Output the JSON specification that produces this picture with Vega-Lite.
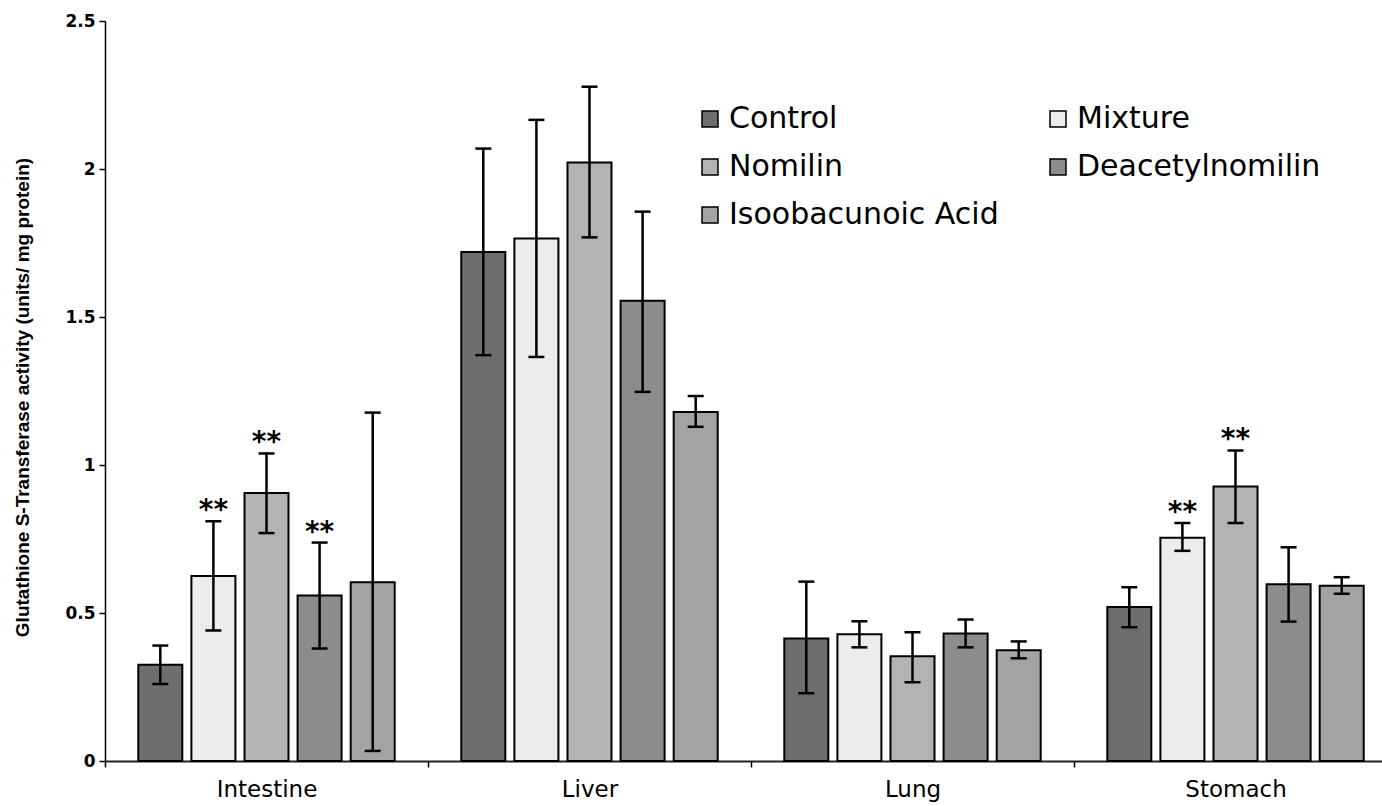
{
  "$schema": "https://vega.github.io/schema/vega-lite/v6.json",
  "width": 1277,
  "height": 740,
  "autosize": {"type": "none"},
  "padding": {"left": 105, "top": 21, "right": 0, "bottom": 45},
  "background": "white",
  "config": {"view": {"stroke": null}, "font": "DejaVu Sans"},
  "data": {
    "values": [
      {"tissue": "Intestine", "treatment": "Control", "mean": 0.325, "lo": 0.26, "hi": 0.39, "sig": ""},
      {"tissue": "Intestine", "treatment": "Mixture", "mean": 0.625, "lo": 0.441, "hi": 0.81, "sig": "**"},
      {"tissue": "Intestine", "treatment": "Nomilin", "mean": 0.905, "lo": 0.77, "hi": 1.039, "sig": "**"},
      {"tissue": "Intestine", "treatment": "Deacetylnomilin", "mean": 0.559, "lo": 0.38, "hi": 0.738, "sig": "**"},
      {"tissue": "Intestine", "treatment": "Isoobacunoic Acid", "mean": 0.604, "lo": 0.034, "hi": 1.177, "sig": ""},
      {"tissue": "Liver", "treatment": "Control", "mean": 1.72, "lo": 1.371, "hi": 2.069, "sig": ""},
      {"tissue": "Liver", "treatment": "Mixture", "mean": 1.765, "lo": 1.365, "hi": 2.166, "sig": ""},
      {"tissue": "Liver", "treatment": "Nomilin", "mean": 2.022, "lo": 1.769, "hi": 2.278, "sig": ""},
      {"tissue": "Liver", "treatment": "Deacetylnomilin", "mean": 1.555, "lo": 1.247, "hi": 1.856, "sig": ""},
      {"tissue": "Liver", "treatment": "Isoobacunoic Acid", "mean": 1.179, "lo": 1.129, "hi": 1.233, "sig": ""},
      {"tissue": "Lung", "treatment": "Control", "mean": 0.414, "lo": 0.229, "hi": 0.606, "sig": ""},
      {"tissue": "Lung", "treatment": "Mixture", "mean": 0.428, "lo": 0.384, "hi": 0.472, "sig": ""},
      {"tissue": "Lung", "treatment": "Nomilin", "mean": 0.354, "lo": 0.266, "hi": 0.435, "sig": ""},
      {"tissue": "Lung", "treatment": "Deacetylnomilin", "mean": 0.431, "lo": 0.384, "hi": 0.478, "sig": ""},
      {"tissue": "Lung", "treatment": "Isoobacunoic Acid", "mean": 0.374, "lo": 0.347, "hi": 0.404, "sig": ""},
      {"tissue": "Stomach", "treatment": "Control", "mean": 0.52, "lo": 0.452, "hi": 0.587, "sig": ""},
      {"tissue": "Stomach", "treatment": "Mixture", "mean": 0.754, "lo": 0.71, "hi": 0.804, "sig": "**"},
      {"tissue": "Stomach", "treatment": "Nomilin", "mean": 0.927, "lo": 0.804, "hi": 1.049, "sig": "**"},
      {"tissue": "Stomach", "treatment": "Deacetylnomilin", "mean": 0.597, "lo": 0.471, "hi": 0.722, "sig": ""},
      {"tissue": "Stomach", "treatment": "Isoobacunoic Acid", "mean": 0.592, "lo": 0.565, "hi": 0.621, "sig": ""}
    ]
  },
  "encoding": {
    "x": {
      "field": "tissue",
      "type": "nominal",
      "sort": ["Intestine", "Liver", "Lung", "Stomach"],
      "scale": {"range": [0, 1292], "paddingInner": 0, "paddingOuter": 0},
      "axis": {
        "title": null,
        "tickBand": "extent",
        "labelAngle": 0,
        "labelFont": "DejaVu Sans",
        "labelFontSize": 23,
        "labelColor": "black",
        "labelPadding": 11,
        "domainColor": "#222222",
        "domainWidth": 2,
        "tickColor": "black",
        "tickWidth": 1.5,
        "tickSize": 6
      }
    },
    "xOffset": {
      "field": "treatment",
      "type": "nominal",
      "sort": ["Control", "Mixture", "Nomilin", "Deacetylnomilin", "Isoobacunoic Acid"],
      "scale": {"paddingInner": 0.171, "paddingOuter": 0.627}
    }
  },
  "layer": [
    {
      "mark": {"type": "bar", "stroke": "black", "strokeWidth": 2},
      "encoding": {
        "y": {
          "field": "mean",
          "type": "quantitative",
          "scale": {"domain": [0, 2.5], "nice": false, "zero": true},
          "axis": {
            "values": [0, 0.5, 1, 1.5, 2, 2.5],
            "format": "~g",
            "grid": false,
            "tickSize": 6,
            "tickColor": "black",
            "tickWidth": 1.5,
            "domainColor": "black",
            "domainWidth": 1.5,
            "labelFont": "DejaVu Sans",
            "labelFontSize": 17,
            "labelFontWeight": "bold",
            "labelColor": "black",
            "labelPadding": 4,
            "title": "Glutathione S-Transferase activity (units/ mg protein)",
            "titleFont": "Liberation Sans",
            "titleFontSize": 19,
            "titleFontWeight": "bold",
            "titleColor": "black",
            "titleAngle": 270,
            "titleAlign": "center",
            "titleBaseline": "middle",
            "titleX": -83,
            "titleY": 376
          }
        },
        "color": {
          "field": "treatment",
          "type": "nominal",
          "scale": {
            "domain": ["Control", "Nomilin", "Isoobacunoic Acid", "Mixture", "Deacetylnomilin"],
            "range": ["#6e6e6e", "#b3b3b3", "#a3a3a3", "#ececec", "#8c8c8c"]
          },
          "legend": {
            "orient": "none",
            "legendX": 590,
            "legendY": 83,
            "columns": 2,
            "columnPadding": 44,
            "rowPadding": 18,
            "symbolType": "square",
            "symbolSize": 256,
            "symbolStrokeColor": "black",
            "symbolStrokeWidth": 1.5,
            "labelFont": "DejaVu Sans",
            "labelFontSize": 30,
            "labelColor": "black",
            "labelOffset": 4,
            "labelLimit": 500,
            "title": null,
            "padding": 0
          }
        }
      }
    },
    {
      "mark": {"type": "rule", "strokeWidth": 2.5, "color": "black"},
      "encoding": {
        "y": {"field": "lo", "type": "quantitative"},
        "y2": {"field": "hi"}
      }
    },
    {
      "mark": {"type": "tick", "orient": "horizontal", "size": 16, "thickness": 2.5, "color": "black", "opacity": 1},
      "encoding": {"y": {"field": "hi", "type": "quantitative"}}
    },
    {
      "mark": {"type": "tick", "orient": "horizontal", "size": 16, "thickness": 2.5, "color": "black", "opacity": 1},
      "encoding": {"y": {"field": "lo", "type": "quantitative"}}
    },
    {
      "transform": [{"filter": "datum.sig != ''"}],
      "mark": {"type": "text", "font": "DejaVu Sans", "fontSize": 28, "fontWeight": "bold", "color": "black", "baseline": "alphabetic", "dy": -2},
      "encoding": {
        "y": {"field": "hi", "type": "quantitative"},
        "text": {"field": "sig"}
      }
    }
  ]
}
